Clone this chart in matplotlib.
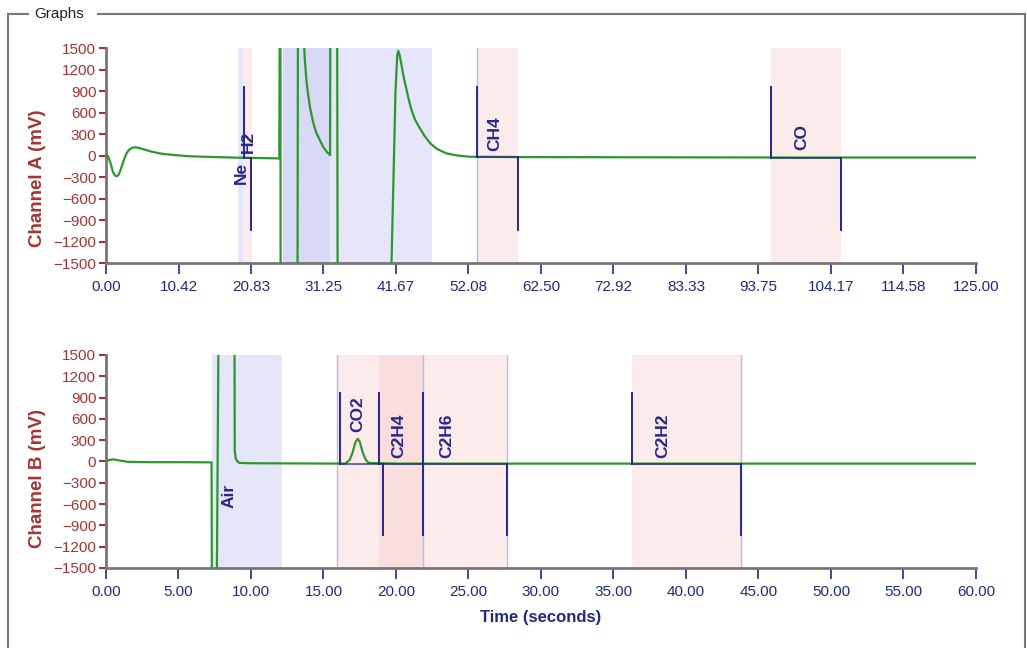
import matplotlib
matplotlib.use('Agg')
import matplotlib.pyplot as plt
from matplotlib.lines import Line2D

plt.rcParams['font.family'] = ['Liberation Sans', 'DejaVu Sans']

# ---- Channel A trace (seconds, mV) ----
time_a = [0, 0.3, 0.7, 1.0, 1.3, 1.55, 1.8, 2.1, 2.5, 2.9, 3.3, 3.8, 4.2, 4.8, 5.5,
          6.5, 8.0, 10.0, 12.0, 15.0, 19.0, 22.0, 24.9, 25.0, 25.05, 25.1, 27.5,
          27.6, 28.4, 28.5, 28.6, 28.8, 29.0, 29.3, 29.5, 29.8, 30.2, 30.7, 31.2,
          31.7, 32.2, 32.25, 33.2, 33.3, 41.0, 41.6, 41.85, 42.0, 42.2, 42.5, 42.8,
          43.2, 43.5, 43.9, 44.4, 45.1, 45.8, 46.6, 47.5, 48.9, 50.5, 52.3,
          60.0, 80.0, 100.0, 125.0]
mv_a = [0, -10, -120, -230, -280, -290, -270, -200, -80, 20, 80, 110, 115, 105, 85,
        55, 25, 5, -10, -20, -30, -35, -40, 3000, 3000, -3000, -3000,
        3000, 3000, 1470, 1300, 1050, 880, 680, 580, 450, 320, 220, 120,
        55, 5, 3000, 3000, -3000, -1600, 900, 1400, 1460, 1400, 1240, 1080,
        914, 780, 635, 500, 380, 270, 170, 95, 30, 0, -17,
        -22, -25, -28, -28]

# ---- Channel B trace ----
time_b = [0, 0.2, 0.5, 0.9, 1.5, 3.0, 5.0, 7.28, 7.32, 7.6, 7.8, 8.85, 8.88, 8.95,
          9.05, 9.2, 10.0, 16.5, 16.8, 17.0, 17.2, 17.36, 17.5, 17.7, 17.9, 18.1,
          20.0, 30.0, 45.0, 60.0]
mv_b = [0, 20, 30, 15, -5, -10, -10, -12, -3000, -3000, 3000, 3000, 150, 40,
        5, -20, -25, -30, 20, 120, 270, 320, 280, 130, 30, -20,
        -30, -30, -30, -30]

# ---- peak windows ----
a_peak_start = [19.8, 53.3, 95.5]
a_peak_end = [20.9, 59.15, 105.6]
a_peak_base = [-30, -18, -28]
b_peak_start = [16.14, 18.85, 21.84, 36.3]
b_peak_end = [19.08, 21.84, 27.68, 43.77]
b_peak_base = [-30, -30, -30, -30]

# ---- labels ----
a_labels = ['Ne', 'H2', 'CH4', 'CO']
a_label_x = [19.5, 20.4, 55.9, 99.95]
a_label_y = [-90, 40, 70, 77]
b_labels = ['Air', 'CO2', 'C2H4', 'C2H6', 'C2H2']
b_label_x = [8.5, 17.36, 20.19, 23.5, 38.43]
b_label_y = [-320, 420, 50, 50, 45]

# ---- shaded windows ----
a_blue = [(18.97, 19.7), (25.4, 32.2), (25.4, 46.8)]
a_pink = [(19.7, 20.98), (53.3, 59.15), (95.5, 105.6)]
a_edges = [53.3]
b_blue = [(7.28, 12.12)]
b_pink = [(15.9, 21.84), (18.85, 27.68), (36.3, 43.77)]
b_edges = [15.9, 21.84, 27.68, 43.77]

a_xticks = [0.00, 10.42, 20.83, 31.25, 41.67, 52.08, 62.50, 72.92, 83.33,
            93.75, 104.17, 114.58, 125.00]
b_xticks = [0, 5, 10, 15, 20, 25, 30, 35, 40, 45, 50, 55, 60]
yticks = [1500, 1200, 900, 600, 300, 0, -300, -600, -900, -1200, -1500]

GREEN = '#2e962e'
NAVY = '#25258f'
RED = '#a83232'
TICKBLUE = '#1f2a80'


def draw_channel(ax, t, mv, blue, pink, edges, starts, ends, bases,
                 labels, lx, ly, xticks, xmax, ylabel, label_y):
    for lo, hi in blue:
        ax.axvspan(lo, hi, color='#c8c8f4', alpha=0.45, lw=0, zorder=0)
    for lo, hi in pink:
        ax.axvspan(lo, hi, color='#f9c8c8', alpha=0.35, lw=0, zorder=0)
    for e in edges:
        ax.axvline(e, color='#b8b8ea', lw=1, zorder=1)
    ax.plot(t, mv, color=GREEN, lw=1.6, zorder=3)
    for s, e, b in zip(starts, ends, bases):
        ax.plot([s, s], [b, 960], color=NAVY, lw=1.4, zorder=4)
        ax.plot([e, e], [b, -1040], color=NAVY, lw=1.4, zorder=4)
        ax.plot([s, e], [b, b], color=NAVY, lw=1.2, alpha=0.8, zorder=4)
    for name, x, y in zip(labels, lx, ly):
        ax.text(x, y, name, rotation=90, ha='center',
                va='bottom' if y > 0 else 'top', color=NAVY,
                fontsize=12.5, fontweight='bold', zorder=5)
    ax.set_xlim(0, xmax)
    ax.set_ylim(-1500, 1500)
    ax.set_yticks(yticks)
    ax.set_xticks(xticks)
    ax.set_xticklabels(['%.2f' % v for v in xticks])
    for s in ['top', 'right']:
        ax.spines[s].set_visible(False)
    for s in ['left', 'bottom']:
        ax.spines[s].set_color('#777777')
        ax.spines[s].set_linewidth(2)
    ax.tick_params(axis='y', colors=RED, labelsize=11, length=5, width=1.5, pad=2)
    ax.tick_params(axis='x', colors=TICKBLUE, labelsize=11, length=8, width=1.2, pad=4)
    ax.set_ylabel(ylabel, color=RED, fontsize=13.5, fontweight='bold')
    ax.yaxis.set_label_coords(-0.069, label_y)
    ax.set_facecolor('none')


fig = plt.figure(figsize=(10.27, 6.48), dpi=100)
ax1 = fig.add_axes([0.1032, 0.5941, 0.8471, 0.3318])
ax2 = fig.add_axes([0.1032, 0.1235, 0.8471, 0.3287])

draw_channel(ax1, time_a, mv_a, a_blue, a_pink, a_edges, a_peak_start, a_peak_end,
             a_peak_base, a_labels, a_label_x, a_label_y, a_xticks, 125,
             'Channel A (mV)', 0.395)
draw_channel(ax2, time_b, mv_b, b_blue, b_pink, b_edges, b_peak_start, b_peak_end,
             b_peak_base, b_labels, b_label_x, b_label_y, b_xticks, 60,
             'Channel B (mV)', 0.42)
ax2.set_xlabel('Time (seconds)', color=TICKBLUE, fontsize=12, fontweight='bold',
               labelpad=8)

# group box frame
W, H = 1027.0, 648.0
box = dict(color='#777777', lw=1.5)
fig.add_artist(Line2D([8 / W, 28 / W], [1 - 14 / H] * 2, **box))
fig.add_artist(Line2D([98 / W, 1025 / W], [1 - 14 / H] * 2, **box))
fig.add_artist(Line2D([8 / W] * 2, [1 - 14 / H, 0], **box))
fig.add_artist(Line2D([1025 / W] * 2, [1 - 14 / H, 0], **box))
fig.text(34 / W, 1 - 14 / H, 'Graphs', fontsize=11, va='center', ha='left',
         color='#222222')

fig.savefig('out.png', dpi=100)
